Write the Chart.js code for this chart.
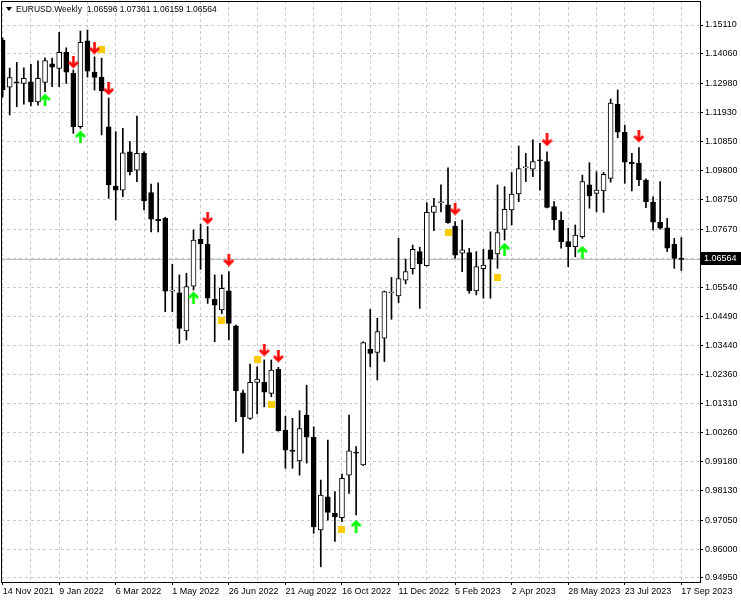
<!DOCTYPE html>
<html>
<head>
<meta charset="utf-8">
<script src="https://cdn.jsdelivr.net/npm/chart.js@4.4.0/dist/chart.umd.min.js"></script>
<style>
  html, body { margin: 0; padding: 0; background: #fff; }
  #wrap { width: 741px; height: 600px; }
</style>
</head>
<body>
<div id="wrap"><canvas id="eurusd"></canvas></div>
<script>
// weekly EURUSD bars, 14 Nov 2021 .. 17 Sep 2023 (bar index 0..96)
var symbolTitle = "EURUSD.Weekly";
var opens = [1.1456,1.1284,1.1302,1.1298,1.1304,1.1231,1.1302,1.1369,1.1353,1.1411,
  1.1335,1.1140,1.1453,1.1339,1.1320,1.1140,1.0924,1.0909,1.1049,1.0982,
  1.1043,1.0900,1.0803,1.0806,1.0541,1.0535,1.0396,1.0559,1.0730,1.0711,
  1.0511,1.0472,1.0542,1.0414,1.0170,1.0077,1.0208,1.0208,1.0168,1.0256,
  1.0034,0.9961,0.9922,1.0089,1.0008,0.9670,0.9791,0.9731,0.9715,0.9870,
  0.9952,0.9907,1.0329,1.0317,1.0369,1.0534,1.0523,1.0581,1.0623,1.0685,
  1.0634,1.0828,1.0863,1.0855,1.0778,1.0679,1.0681,1.0542,1.0623,1.0691,
  1.0676,1.0766,1.0837,1.0895,1.0990,1.0985,1.1018,1.1013,1.0849,1.0800,
  1.0721,1.0703,1.0739,1.0928,1.0897,1.0906,1.0952,1.1223,1.1120,1.1010,
  1.1007,1.0946,1.0865,1.0792,1.0772,1.0711,1.06596];
var highs = [1.1464,1.1354,1.1375,1.1355,1.1368,1.1380,1.1391,1.1390,1.1484,1.1428,
  1.1347,1.1489,1.1493,1.1395,1.1390,1.1245,1.1122,1.1134,1.1086,1.1179,
  1.1049,1.0931,1.0936,1.0810,1.0639,1.0600,1.0606,1.0764,1.0785,1.0776,
  1.0600,1.0600,1.0612,1.0417,1.0180,1.0275,1.0265,1.0290,1.0290,1.0263,
  1.0085,1.0077,1.0105,1.0198,1.0046,0.9852,0.9998,0.9810,0.9874,1.0089,
  0.9974,1.0356,1.0474,1.0442,1.0541,1.0591,1.0733,1.0657,1.0709,1.0701,
  1.0863,1.0879,1.0928,1.0990,1.0794,1.0800,1.0697,1.0685,1.0693,1.0757,
  1.0928,1.0922,1.0973,1.1070,1.1043,1.1092,1.1080,1.1049,1.0867,1.0830,
  1.0770,1.0782,1.0964,1.1009,1.0976,1.0974,1.1241,1.1274,1.1146,1.1043,
  1.1064,1.0950,1.0885,1.0940,1.0806,1.0733,1.07361];
var lows = [1.1248,1.1183,1.1213,1.1222,1.1216,1.1219,1.1268,1.1286,1.1286,1.1298,
  1.1116,1.1134,1.1321,1.1274,1.1110,1.0879,1.0800,1.0885,1.0964,1.0940,
  1.0837,1.0757,1.0757,1.0466,1.0466,1.0350,1.0363,1.0545,1.0620,1.0496,
  1.0356,1.0459,1.0363,1.0065,0.9950,1.0073,1.0093,1.0119,1.0156,1.0030,
  0.9895,0.9895,0.9870,0.9914,0.9658,0.9536,0.9706,0.9628,0.9700,0.9803,
  0.9725,0.9905,1.0265,1.0217,1.0284,1.0438,1.0499,1.0567,1.0603,1.0478,
  1.0632,1.0761,1.0830,1.0788,1.0660,1.0612,1.0533,1.0527,1.0515,1.0515,
  1.0624,1.0727,1.0782,1.0867,1.0940,1.0958,1.0909,1.0844,1.0764,1.0697,
  1.0630,1.0666,1.0733,1.0843,1.0830,1.0828,1.0938,1.1100,1.0934,1.0906,
  1.0925,1.0845,1.0764,1.0767,1.0685,1.0624,1.06159];
var closes = [1.1274,1.1319,1.1300,1.1317,1.1231,1.1317,1.1381,1.1357,1.1411,1.1339,
  1.1140,1.1448,1.1343,1.1320,1.1271,1.0928,1.0909,1.1045,1.0976,1.1043,
  1.0870,1.0803,1.0798,1.0541,1.0544,1.0405,1.0557,1.0727,1.0713,1.0515,
  1.0490,1.0551,1.0423,1.0178,1.0083,1.0208,1.0220,1.0172,1.0253,1.0032,
  0.9961,0.9956,1.0040,1.0008,0.9681,0.9797,0.9734,0.9718,0.9858,0.9959,
  0.9950,1.0353,1.0314,1.0393,1.0539,1.0536,1.0587,1.0612,1.0693,1.0640,
  1.0828,1.0851,1.0865,1.0790,1.0672,1.0691,1.0542,1.0630,1.0636,1.0657,
  1.0754,1.0839,1.0895,1.0988,1.0992,1.1013,1.1016,1.0846,1.0800,1.0721,
  1.0703,1.0745,1.0940,1.0888,1.0909,1.0967,1.1226,1.1120,1.1011,1.1005,
  1.0946,1.0867,1.0792,1.0770,1.0697,1.0660,1.06564];

// date labels, one per 8 bars
var dateLabels = ["14 Nov 2021","9 Jan 2022","6 Mar 2022","1 May 2022","26 Jun 2022",
  "21 Aug 2022","16 Oct 2022","11 Dec 2022","5 Feb 2023","2 Apr 2023",
  "28 May 2023","23 Jul 2023","17 Sep 2023"];
var priceTicks = [1.15110,1.14060,1.12980,1.11930,1.10850,1.09800,1.08750,1.07670,
  1.06590,1.05540,1.04490,1.03440,1.02360,1.01310,1.00260,0.99180,0.98130,0.97050,
  0.96000,0.94950];

// indicator marks
var sellBars = [10,13,15,29,32,37,39,64,77,90];
var sellLevels = [1.1376,1.1427,1.1278,1.0807,1.0654,1.0326,1.0304,1.0840,1.1092,1.1106];
var buyBars = [6,11,27,50,71,82];
var buyLevels = [1.1238,1.1103,1.0516,0.9684,1.0694,1.0683];
var boxBars = [14,31,36,38,48,63,70];
var boxLevels = [1.1420,1.0435,1.0293,1.0126,0.9670,1.0753,1.0589];

var FONT = '"Liberation Sans", Arial, sans-serif';

function arrowImage(color, up) {
  var c = document.createElement("canvas");
  c.width = 11; c.height = 13;
  var g = c.getContext("2d");
  if (up) { g.translate(0, 13); g.scale(1, -1); }
  g.strokeStyle = color;
  g.lineWidth = 2.6;
  g.beginPath(); g.moveTo(5.5, 0); g.lineTo(5.5, 11); g.stroke();
  g.beginPath(); g.moveTo(1, 6.5); g.lineTo(5.5, 11); g.lineTo(10, 6.5); g.stroke();
  return c;
}
function boxImage(color) {
  var c = document.createElement("canvas");
  c.width = 7; c.height = 7;
  var g = c.getContext("2d");
  g.fillStyle = color;
  g.fillRect(0, 0, 7, 7);
  return c;
}

function pts(bars, levels) {
  return bars.map(function (b, k) { return { x: b, y: levels[k] }; });
}

var wickData = highs.map(function (h, i) { return { x: i, y: [lows[i], h] }; });
var bodyData = opens.map(function (o, i) { return { x: i, y: [o, closes[i]] }; });
var bodyColors = opens.map(function (o, i) { return closes[i] > o ? "#ffffff" : "#000000"; });

var mtChrome = {
  id: "mtChrome",
  beforeDatasetsDraw: function (chart) {
    var a = chart.chartArea, ctx = chart.ctx;
    var y = Math.round(chart.scales.y.getPixelForValue(closes[closes.length - 1])) + 0.5;
    ctx.save();
    ctx.strokeStyle = "#c0c0c0";
    ctx.lineWidth = 1;
    ctx.beginPath(); ctx.moveTo(a.left, y); ctx.lineTo(a.right, y); ctx.stroke();
    ctx.restore();
  },
  afterDraw: function (chart) {
    var a = chart.chartArea, ctx = chart.ctx;
    var last = closes.length - 1;
    ctx.save();
    // frame left + top
    ctx.strokeStyle = "#000";
    ctx.lineWidth = 1;
    ctx.beginPath();
    ctx.moveTo(a.left + 0.5, a.bottom); ctx.lineTo(a.left + 0.5, a.top + 0.5); ctx.lineTo(a.right, a.top + 0.5);
    ctx.stroke();
    // header
    ctx.fillStyle = "#000";
    ctx.beginPath(); ctx.moveTo(6, 7); ctx.lineTo(12, 7); ctx.lineTo(9, 11); ctx.closePath(); ctx.fill();
    ctx.font = "8.5px " + FONT;
    ctx.textBaseline = "middle";
    ctx.fillText(symbolTitle + "  " + opens[last].toFixed(5) + " " + highs[last].toFixed(5) + " " +
      lows[last].toFixed(5) + " " + closes[last].toFixed(5), 16, 9.5);
    // current price tag
    ctx.font = "9px " + FONT;
    var y = Math.round(chart.scales.y.getPixelForValue(closes[last]));
    ctx.fillRect(a.right + 1, y - 7, 40, 13);
    ctx.fillStyle = "#fff";
    ctx.fillText(closes[last].toFixed(5), a.right + 4, y);
    ctx.restore();
  }
};

new Chart("eurusd", {
  type: "bar",
  data: {
    datasets: [
      { type: "line", data: pts(sellBars, sellLevels), showLine: false, pointStyle: arrowImage("#ff0000", false), pointRadius: 5, order: 1 },
      { type: "line", data: pts(buyBars, buyLevels), showLine: false, pointStyle: arrowImage("#00ff00", true), pointRadius: 5, order: 1 },
      { type: "line", data: pts(boxBars, boxLevels), showLine: false, pointStyle: boxImage("#ffcc00"), pointRadius: 5, order: 1 },
      { data: bodyData, grouped: false, barThickness: 5, backgroundColor: bodyColors, borderColor: "#000",
        borderWidth: 1, borderSkipped: false, minBarLength: 1, order: 2 },
      { data: wickData, grouped: false, barThickness: 1, backgroundColor: "#000", borderWidth: 0, order: 3 }
    ]
  },
  options: {
    responsive: true,
    maintainAspectRatio: false,
    animation: false,
    events: [],
    layout: { autoPadding: false, padding: { left: 1, top: 1, right: 0, bottom: 0 } },
    plugins: { legend: { display: false }, tooltip: { enabled: false }, title: { display: false } },
    scales: {
      x: {
        type: "linear",
        offset: false,
        min: -0.23,
        max: 98.64,
        afterBuildTicks: function (s) {
          var t = [];
          for (var v = 0; v <= 96; v += 4) t.push({ value: v });
          s.ticks = t;
        },
        afterFit: function (s) { s.height = 18; s.paddingLeft = 0; s.paddingRight = 0; },
        ticks: {
          autoSkip: false, maxRotation: 0, align: "start", padding: 1,
          color: "#000", font: { family: FONT, size: 9 },
          callback: function (v) { return v % 8 === 0 ? dateLabels[v / 8] : ""; }
        },
        grid: {
          offset: false, color: "#c8c8c8", tickLength: 3, tickBorderDash: [],
          tickColor: function (c) { return c.tick && c.tick.value % 8 === 0 ? "#000" : "rgba(0,0,0,0)"; }
        },
        border: { color: "#000", dash: [3, 3] }
      },
      y: {
        position: "right",
        min: 0.94804,
        max: 1.15985,
        afterBuildTicks: function (s) { s.ticks = priceTicks.map(function (v) { return { value: v }; }); },
        afterFit: function (s) { s.width = 41; s.paddingTop = 0; s.paddingBottom = 0; },
        ticks: {
          autoSkip: false, padding: 2, color: "#000", font: { family: FONT, size: 9 },
          callback: function (v) { return v.toFixed(5); }
        },
        grid: { color: "#c8c8c8", tickColor: "#000", tickLength: 3, tickBorderDash: [] },
        border: { color: "#000", dash: [3, 3] }
      }
    }
  },
  plugins: [mtChrome]
});
</script>
</body>
</html>
